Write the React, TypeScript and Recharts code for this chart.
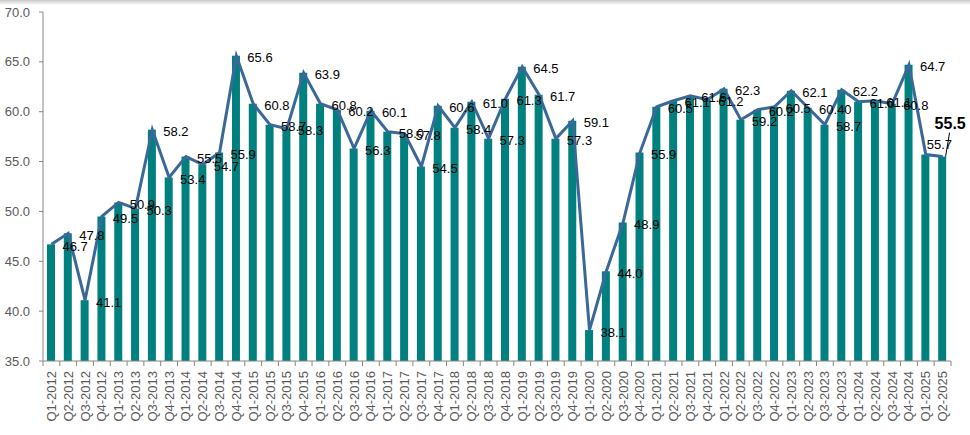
import { Bar, ComposedChart, LabelList, Line, XAxis, YAxis } from 'recharts'

const QUARTERS = [
  'Q1-2012', 'Q2-2012', 'Q3-2012', 'Q4-2012',
  'Q1-2013', 'Q2-2013', 'Q3-2013', 'Q4-2013',
  'Q1-2014', 'Q2-2014', 'Q3-2014', 'Q4-2014',
  'Q1-2015', 'Q2-2015', 'Q3-2015', 'Q4-2015',
  'Q1-2016', 'Q2-2016', 'Q3-2016', 'Q4-2016',
  'Q1-2017', 'Q2-2017', 'Q3-2017', 'Q4-2017',
  'Q1-2018', 'Q2-2018', 'Q3-2018', 'Q4-2018',
  'Q1-2019', 'Q2-2019', 'Q3-2019', 'Q4-2019',
  'Q1-2020', 'Q2-2020', 'Q3-2020', 'Q4-2020',
  'Q1-2021', 'Q2-2021', 'Q3-2021', 'Q4-2021',
  'Q1-2022', 'Q2-2022', 'Q3-2022', 'Q4-2022',
  'Q1-2023', 'Q2-2023', 'Q3-2023', 'Q4-2023',
  'Q1-2024', 'Q2-2024', 'Q3-2024', 'Q4-2024',
  'Q1-2025', 'Q2-2025',
]

const VALUES = [
  46.7, 47.8, 41.1, 49.5,
  50.9, 50.3, 58.2, 53.4,
  55.5, 54.7, 55.9, 65.6,
  60.8, 58.7, 58.3, 63.9,
  60.8, 60.2, 56.3, 60.1,
  58.0, 57.8, 54.5, 60.6,
  58.4, 61.0, 57.3, 61.3,
  64.5, 61.7, 57.3, 59.1,
  38.1, 44.0, 48.9, 55.9,
  60.5, 61.1, 61.6, 61.2,
  62.3, 59.2, 60.2, 60.5,
  62.1, 60.4, 58.7, 62.2,
  61.0, 61.1, 60.8, 64.7,
  55.7, 55.5,
]

// the source shows this one label with two decimals
const LABEL_OVERRIDES: Record<string, string> = { 'Q2-2023': '60.40' }

const Y_TICKS = [35, 40, 45, 50, 55, 60, 65, 70]

const data = QUARTERS.map((q, i) => ({ quarter: q, value: VALUES[i] }))

const BAR_COLOR = '#00807f'
const LINE_COLOR = '#3a6898'
const AXIS_COLOR = '#868686'
const TEXT_COLOR = '#595959'
const FONT = '"Liberation Sans", Arial, sans-serif'

const PLOT_LEFT = 43
const PLOT_RIGHT = 951
const BAND = (PLOT_RIGHT - PLOT_LEFT) / QUARTERS.length

function QuarterTick(props: any) {
  const { x, y, payload, index } = props
  const top = y - 8
  const isLast = index === QUARTERS.length - 1
  return (
    <g>
      <line x1={x - BAND / 2} x2={x - BAND / 2} y1={top} y2={top + 5} stroke={AXIS_COLOR} />
      {isLast && (
        <line x1={x + BAND / 2} x2={x + BAND / 2} y1={top} y2={top + 5} stroke={AXIS_COLOR} />
      )}
      <text
        transform={`translate(${x},${top + 10}) rotate(-90)`}
        textAnchor="end"
        dominantBaseline="central"
        fontSize={13}
        fontFamily={FONT}
        fill={TEXT_COLOR}
      >
        {payload.value}
      </text>
    </g>
  )
}

function ValueLabel(props: any) {
  const { x, y, value, index } = props
  const quarter = QUARTERS[index]
  const text = LABEL_OVERRIDES[quarter] ?? Number(value).toFixed(1)
  const last = QUARTERS.length - 1

  if (index === last) {
    return (
      <g>
        <line x1={x + 3} y1={y} x2={x + 7} y2={y - 24} stroke="#000" strokeWidth={1} />
        <text
          x={x - 8}
          y={y - 28}
          fontSize={16}
          fontWeight="bold"
          fontFamily={FONT}
          fill="#000"
        >
          {text}
        </text>
      </g>
    )
  }
  if (index === last - 1) {
    return (
      <text x={x + 1} y={y - 10} dominantBaseline="central" fontSize={13} fontFamily={FONT} fill="#000">
        {text}
      </text>
    )
  }
  return (
    <text x={x + 11} y={y + 2} dominantBaseline="central" fontSize={13} fontFamily={FONT} fill="#000">
      {text}
    </text>
  )
}

export default function App() {
  return (
    <div style={{ position: 'absolute', left: 0, top: 0, width: 970, height: 435, background: '#fff' }}>
      <div
        style={{
          position: 'absolute',
          left: 0,
          top: 0,
          width: 970,
          height: 5,
          background: 'linear-gradient(#c8c8c8, #ffffff)',
        }}
      />
      <ComposedChart
        width={970}
        height={435}
        data={data}
        margin={{ top: 12, right: 970 - PLOT_RIGHT, left: 0, bottom: 0 }}
        barCategoryGap={0}
      >
        <YAxis
          width={PLOT_LEFT}
          domain={[35, 70]}
          ticks={Y_TICKS}
          interval={0}
          tickFormatter={(v: number) => v.toFixed(1)}
          tick={{ fontSize: 13, fill: TEXT_COLOR, fontFamily: FONT }}
          tickSize={4}
          tickMargin={9}
          axisLine={{ stroke: AXIS_COLOR }}
          tickLine={{ stroke: AXIS_COLOR }}
          allowDataOverflow
        />
        <XAxis
          dataKey="quarter"
          interval={0}
          height={74}
          tick={<QuarterTick />}
          tickLine={false}
          tickSize={6}
          tickMargin={2}
          axisLine={{ stroke: AXIS_COLOR }}
        />
        <Bar dataKey="value" fill={BAR_COLOR} barSize={8} isAnimationActive={false} />
        <Line
          dataKey="value"
          type="linear"
          stroke={LINE_COLOR}
          strokeWidth={3}
          dot={false}
          activeDot={false}
          isAnimationActive={false}
        >
          <LabelList dataKey="value" content={<ValueLabel />} />
        </Line>
      </ComposedChart>
    </div>
  )
}
